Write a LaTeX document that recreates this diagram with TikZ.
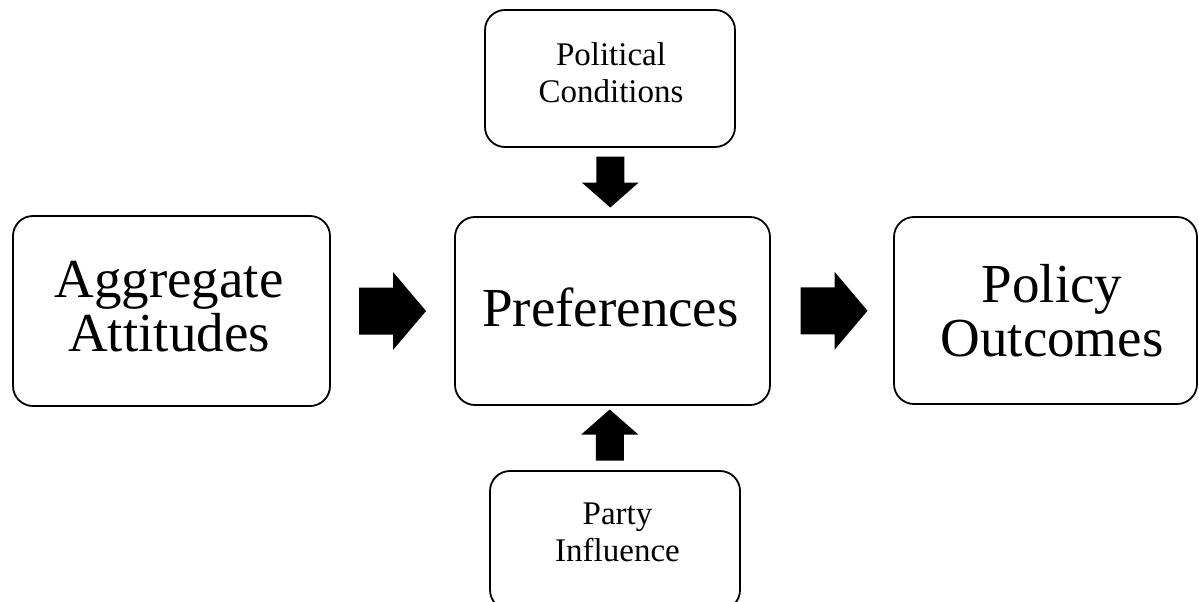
\documentclass[tikz,border=0pt]{standalone}
\usepackage{fontspec}
\setmainfont{Liberation Serif}
\usetikzlibrary{calc}
\begin{document}
\begin{tikzpicture}[x=1pt,y=-1pt,
  box/.style={draw, line width=1.8pt, rounded corners=20pt, inner sep=0pt, fill=white},
  bigtxt/.style={font=\fontsize{55}{54}\selectfont, align=center, inner sep=0pt},
  smalltxt/.style={font=\fontsize{33}{37}\selectfont, align=center, inner sep=0pt},
  harrow/.pic={\fill (-33.5,-23.5) -- (0.5,-23.5) -- (0.5,-39) -- (33.5,0) -- (0.5,39) -- (0.5,23.5) -- (-33.5,23.5) -- cycle;},
  varrow/.pic={\fill (-14,-25.5) -- (14,-25.5) -- (14,0.5) -- (28.5,0.5) -- (0,25.5) -- (-28.5,0.5) -- (-14,0.5) -- cycle;}]
\clip (0,0) rectangle (1199,602);
\fill[white] (0,0) rectangle (1199,602);
% boxes
\node[box, minimum width=317pt, minimum height=190pt] (agg) at (171.5,311) {};
\node[box, minimum width=315pt, minimum height=188pt] (pref) at (612.5,311) {};
\node[box, minimum width=303pt, minimum height=187pt] (pol) at (1045.5,310.5) {};
\node[box, minimum width=250pt, minimum height=137pt] (polcond) at (610,78.5) {};
\node[box, minimum width=250pt, minimum height=139pt] (party) at (615,540.5) {};
% texts
\node[bigtxt] (aggT) at (169,307) {Aggregate\\Attitudes};
\node[bigtxt] (prefT) at (610.5,307.5) {Preferences};
\node[bigtxt] (polT) at (1052,311) {Policy\\Outcomes};
\node[smalltxt] (polcondT) at (611,72.5) {Political\\Conditions};
\node[smalltxt] (partyT) at (617.5,532) {Party\\Influence};
% block arrows
\pic at ($(agg.east)!0.5!(pref.west)$) {harrow};
\pic at ($(pref.east)!0.5!(pol.west)+(2,0)$) {harrow};
\pic at ($(polcond.south)!0.5!(pref.north)+(-1,0)$) {varrow};
\pic[rotate=180] at ($(pref.south)!0.5!(party.north)+(-4,-3)$) {varrow};
\end{tikzpicture}
\end{document}
